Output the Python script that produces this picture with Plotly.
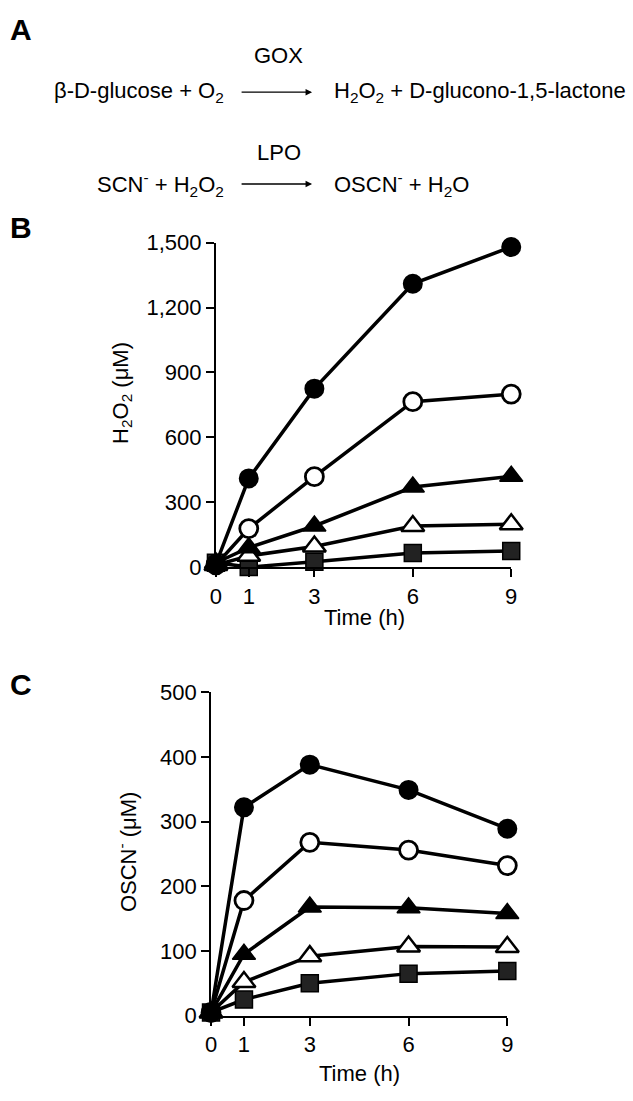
import plotly.graph_objects as go

W, H = 633, 1101

time_h = [0, 1, 3, 6, 9]

# H2O2 (uM), panel B
h2o2_filled_circle = [15, 410, 825, 1310, 1480]
h2o2_open_circle = [10, 178, 418, 765, 800]
h2o2_filled_tri = [20, 90, 190, 370, 420]
h2o2_open_tri = [10, 52, 95, 190, 198]
h2o2_square = [20, 0, 25, 65, 75]

# OSCN- (uM), panel C
oscn_filled_circle = [5, 322, 388, 349, 289]
oscn_open_circle = [5, 178, 268, 256, 232]
oscn_filled_tri = [5, 95, 168, 167, 158]
oscn_open_tri = [5, 52, 92, 107, 106]
oscn_square = [5, 25, 50, 65, 69]

b_ticks = [0, 300, 600, 900, 1200, 1500]
b_ticktext = ['0', '300', '600', '900', '1,200', '1,500']
c_ticks = [0, 100, 200, 300, 400, 500]
x_ticks = [0, 1, 3, 6, 9]

FONT = 'Arial, Liberation Sans, sans-serif'


def px(x):
    return x / W


def py(y):
    return 1 - y / H


styles = [
    dict(symbol='circle', size=18, color='black', line=dict(color='black', width=2)),
    dict(symbol='circle', size=18, color='white', line=dict(color='black', width=2.8)),
    dict(symbol='triangle-up', size=20, color='black', line=dict(color='black', width=1.5)),
    dict(symbol='triangle-up', size=20, color='white', line=dict(color='black', width=2.5)),
    dict(symbol='square', size=17, color='#222222', line=dict(color='black', width=1.5)),
]

fig = go.Figure()

b_series = [h2o2_filled_circle, h2o2_open_circle, h2o2_filled_tri, h2o2_open_tri, h2o2_square]
c_series = [oscn_filled_circle, oscn_open_circle, oscn_filled_tri, oscn_open_tri, oscn_square]

for vals, st in zip(b_series[::-1], styles[::-1]):
    fig.add_trace(go.Scatter(x=time_h, y=vals, mode='lines+markers',
                             line=dict(color='black', width=3.5),
                             marker=st, cliponaxis=False,
                             xaxis='x', yaxis='y', showlegend=False))
for vals, st in zip(c_series[::-1], styles[::-1]):
    fig.add_trace(go.Scatter(x=time_h, y=vals, mode='lines+markers',
                             line=dict(color='black', width=3.5),
                             marker=st, cliponaxis=False,
                             xaxis='x2', yaxis='y2', showlegend=False))

axis_common = dict(showline=True, linecolor='black', linewidth=2,
                   ticks='outside', ticklen=8, tickwidth=2, tickcolor='black',
                   showgrid=False, zeroline=False,
                   tickfont=dict(family=FONT, size=22, color='black'))

fig.update_layout(
    width=W, height=H,
    margin=dict(l=0, r=0, t=0, b=0),
    paper_bgcolor='white', plot_bgcolor='white',
    font=dict(family=FONT, color='black'),
    xaxis=dict(domain=[px(214), px(515)], range=[0, 9], tickvals=x_ticks,
               anchor='y', **axis_common),
    yaxis=dict(domain=[py(568), py(236)], range=[0, 1500], tickvals=b_ticks,
               ticktext=b_ticktext, anchor='x', **axis_common),
    xaxis2=dict(domain=[px(209), px(511)], range=[0, 9], tickvals=x_ticks,
                anchor='y2', **axis_common),
    yaxis2=dict(domain=[py(1027), py(696)], range=[0, 500], tickvals=c_ticks,
                anchor='x2', **axis_common),
)

ann = []


def text(x, y, s, size=23, xanchor='center', bold=False, angle=0):
    if bold:
        s = f'<b>{s}</b>'
    ann.append(dict(x=px(x), y=py(y), xref='paper', yref='paper', text=s,
                    showarrow=False, xanchor=xanchor, yanchor='middle',
                    textangle=angle,
                    font=dict(family=FONT, size=size, color='black')))


# panel letters
text(2, 18, 'A', size=30, xanchor='left', bold=True)
text(2, 220, 'B', size=30, xanchor='left', bold=True)
text(2, 688, 'C', size=30, xanchor='left', bold=True)

# panel A reactions
text(278, 45, 'GOX', size=22)
text(224, 82, 'β-D-glucose + O<sub>2</sub>', size=22, xanchor='right')
text(332, 82, 'H<sub>2</sub>O<sub>2</sub> + D-glucono-1,5-lactone', size=22, xanchor='left')
text(278, 144, 'LPO', size=22)
text(224, 176, 'SCN<sup>-</sup> + H<sub>2</sub>O<sub>2</sub>', size=22, xanchor='right')
text(332, 176, 'OSCN<sup>-</sup> + H<sub>2</sub>O', size=22, xanchor='left')

for yy in (82, 176):
    ann.append(dict(x=px(312), y=py(yy), xref='paper', yref='paper', text='',
                    showarrow=True, ax=-72, ay=0, arrowhead=2, arrowsize=1,
                    arrowwidth=1.3, arrowcolor='black'))

# axis titles
text(365, 620, 'Time (h)', size=22)
text(360, 1086, 'Time (h)', size=22)
text(118, 390, 'H<sub>2</sub>O<sub>2</sub> (μM)', size=22, angle=-90)
text(124, 860, 'OSCN<sup>-</sup> (μM)', size=22, angle=-90)

fig.update_layout(annotations=ann)

fig.write_html('out.html', config={'displayModeBar': False},
               post_script="document.body.style.margin='0';document.body.style.overflow='hidden';")
